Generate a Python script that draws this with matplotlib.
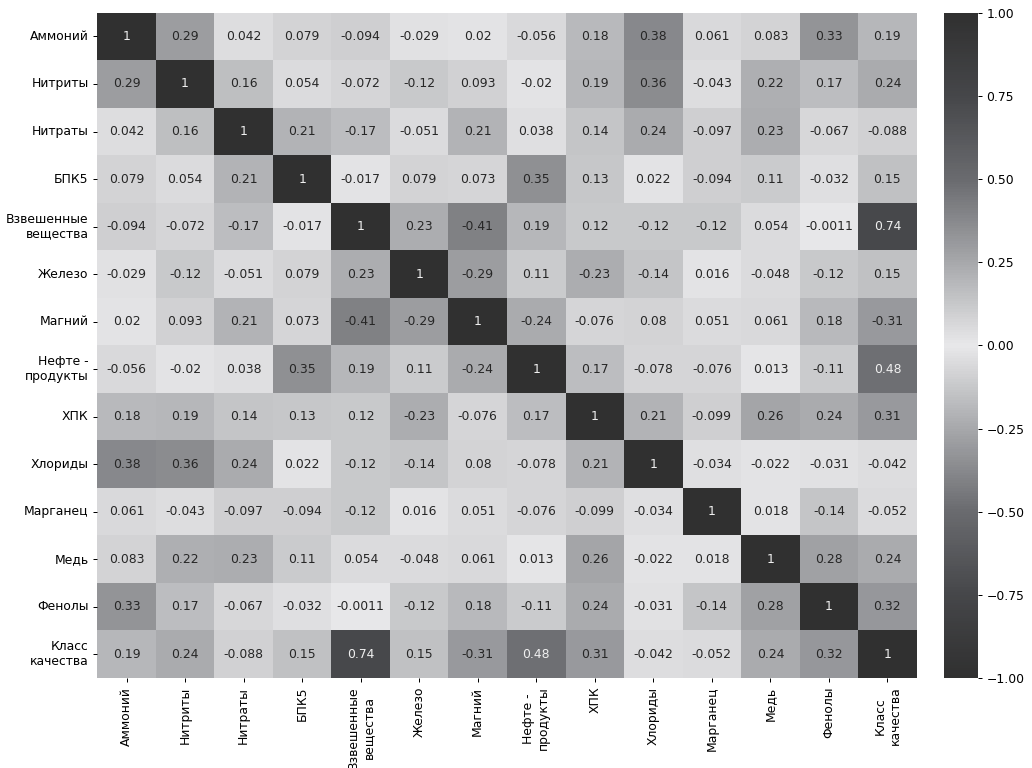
import numpy as np
import pandas as pd
import matplotlib
matplotlib.use("Agg")
import matplotlib.pyplot as plt
from matplotlib.colors import LinearSegmentedColormap
import seaborn as sns

labels = [
    "Аммоний", "Нитриты", "Нитраты", "БПК5", "Взвешенные\nвещества",
    "Железо", "Магний", "Нефте -\nпродукты", "ХПК", "Хлориды",
    "Марганец", "Медь", "Фенолы", "Класс\nкачества",
]

# Lower triangle of the correlation matrix (row i holds columns 0..i-1)
lower_tri = [
    [],
    [0.29],
    [0.042, 0.16],
    [0.079, 0.054, 0.21],
    [-0.094, -0.072, -0.17, -0.017],
    [-0.029, -0.12, -0.051, 0.079, 0.23],
    [0.02, 0.093, 0.21, 0.073, -0.41, -0.29],
    [-0.056, -0.02, 0.038, 0.35, 0.19, 0.11, -0.24],
    [0.18, 0.19, 0.14, 0.13, 0.12, -0.23, -0.076, 0.17],
    [0.38, 0.36, 0.24, 0.022, -0.12, -0.14, 0.08, -0.078, 0.21],
    [0.061, -0.043, -0.097, -0.094, -0.12, 0.016, 0.051, -0.076, -0.099, -0.034],
    [0.083, 0.22, 0.23, 0.11, 0.054, -0.048, 0.061, 0.013, 0.26, -0.022, 0.018],
    [0.33, 0.17, -0.067, -0.032, -0.0011, -0.12, 0.18, -0.11, 0.24, -0.031, -0.14, 0.28],
    [0.19, 0.24, -0.088, 0.15, 0.74, 0.15, -0.31, 0.48, 0.31, -0.042, -0.052, 0.24, 0.32],
]

cbar_ticks = [-1, -0.75, -0.5, -0.25, 0, 0.25, 0.5, 0.75, 1]

n = len(labels)
corr = np.eye(n)
for i, row in enumerate(lower_tri):
    for j, v in enumerate(row):
        corr[i, j] = v
        corr[j, i] = v
df = pd.DataFrame(corr, index=labels, columns=labels)

# Symmetric gray ramp: light at zero, dark at both ends
half = [(232, 232, 234), (167, 168, 171), (106, 107, 111), (70, 71, 74), (48, 48, 48)]
half = [tuple(c / 255 for c in rgb) for rgb in half]
stops = []
for k, rgb in enumerate(half[::-1]):
    stops.append((0.5 - 0.5 * (4 - k) / 4, rgb))
for k, rgb in enumerate(half[1:], start=1):
    stops.append((0.5 + 0.5 * k / 4, rgb))
cmap = LinearSegmentedColormap.from_list("gray_div", stops)

W, H, DPI = 1032, 768, 89
fig = plt.figure(figsize=(W / DPI, H / DPI), dpi=DPI)
ax = fig.add_axes([97.3 / W, 1 - 678 / H, (916.7 - 97.3) / W, (678 - 12.7) / H])
cax = fig.add_axes([944.3 / W, 1 - 678 / H, 33.5 / W, (678 - 12.7) / H])

sns.heatmap(df, ax=ax, cbar_ax=cax, cmap=cmap, vmin=-1, vmax=1,
            annot=True, annot_kws={"fontsize": 10})

# light text on strongly correlated cells, dark elsewhere
for txt in ax.texts:
    val = float(txt.get_text())
    txt.set_color("#f0f0f0" if abs(val) > 0.45 else "#262626")

ax.tick_params(labelsize=10)
ax.set_xticklabels(labels, rotation=90)
ax.set_yticklabels(labels, rotation=0)
cax.tick_params(labelsize=10)
cax.set_yticks(cbar_ticks)
cax.set_yticklabels([f"{t:.2f}".replace("-", "\u2212") for t in cbar_ticks])

fig.savefig("out.png", dpi=DPI)
